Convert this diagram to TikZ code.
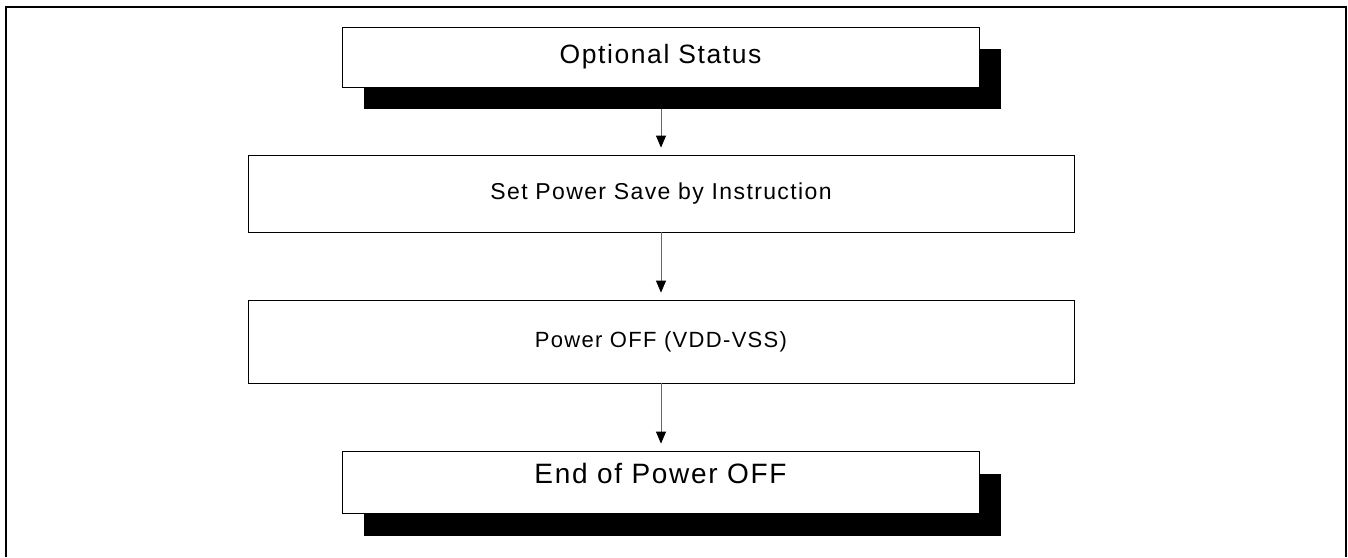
\documentclass[tikz,border=0pt]{standalone}
\usepackage{fontspec}
\setmainfont{Liberation Sans}
\newfontfamily\boxfont[LetterSpace=6]{Liberation Sans}
\usepackage{tikz}
\usetikzlibrary{arrows.meta, positioning}

\tikzset{
    stepbox/.style={draw, line width=0.8pt, fill=white, inner sep=0pt, align=center},
    shadowbox/.style={fill=black, inner sep=0pt},
    flow/.style={-{Triangle[width=10pt, length=12pt, color=black]}, line width=0.8pt, black!60, shorten >=7pt},
}

\begin{document}
\begin{tikzpicture}[x=1pt, y=-1pt]
    \useasboundingbox (0,0) rectangle (1348,557);
    % outer frame, open at the bottom
    \draw[line width=2pt] (6,557) -- (6,7) -- (1346,7) -- (1346,557);

    % shadows first
    \node[shadowbox, minimum width=637pt, minimum height=60pt] (optsh) at (682.5,79) {};
    \node[shadowbox, minimum width=637pt, minimum height=62pt] (endsh) at (682.5,505) {};

    % steps
    \node[stepbox, minimum width=637pt, minimum height=60pt] (opt) at (660.5,57)
        {\boxfont\fontsize{26.5}{30}\selectfont Optional Status};
    \node[stepbox, minimum width=826pt, minimum height=77pt] (setps) at (661,193.5)
        {\boxfont\fontsize{23}{27}\selectfont Set Power Save by Instruction};
    \node[stepbox, minimum width=826pt, minimum height=83pt] (poff) at (661,341.5)
        {\boxfont\fontsize{22}{26}\selectfont Power OFF (VDD-VSS)};
    \node[stepbox, minimum width=637pt, minimum height=62pt] (endp) at (660.5,482)
        {\boxfont\fontsize{28}{32}\selectfont\raisebox{18pt}{End of Power OFF}};

    % connectors
    \draw[flow] (optsh.south -| setps.north) -- (setps.north);
    \draw[flow] (setps) -- (poff);
    \draw[flow] (poff.south) -- (endp.north -| poff.south);
\end{tikzpicture}
\end{document}
